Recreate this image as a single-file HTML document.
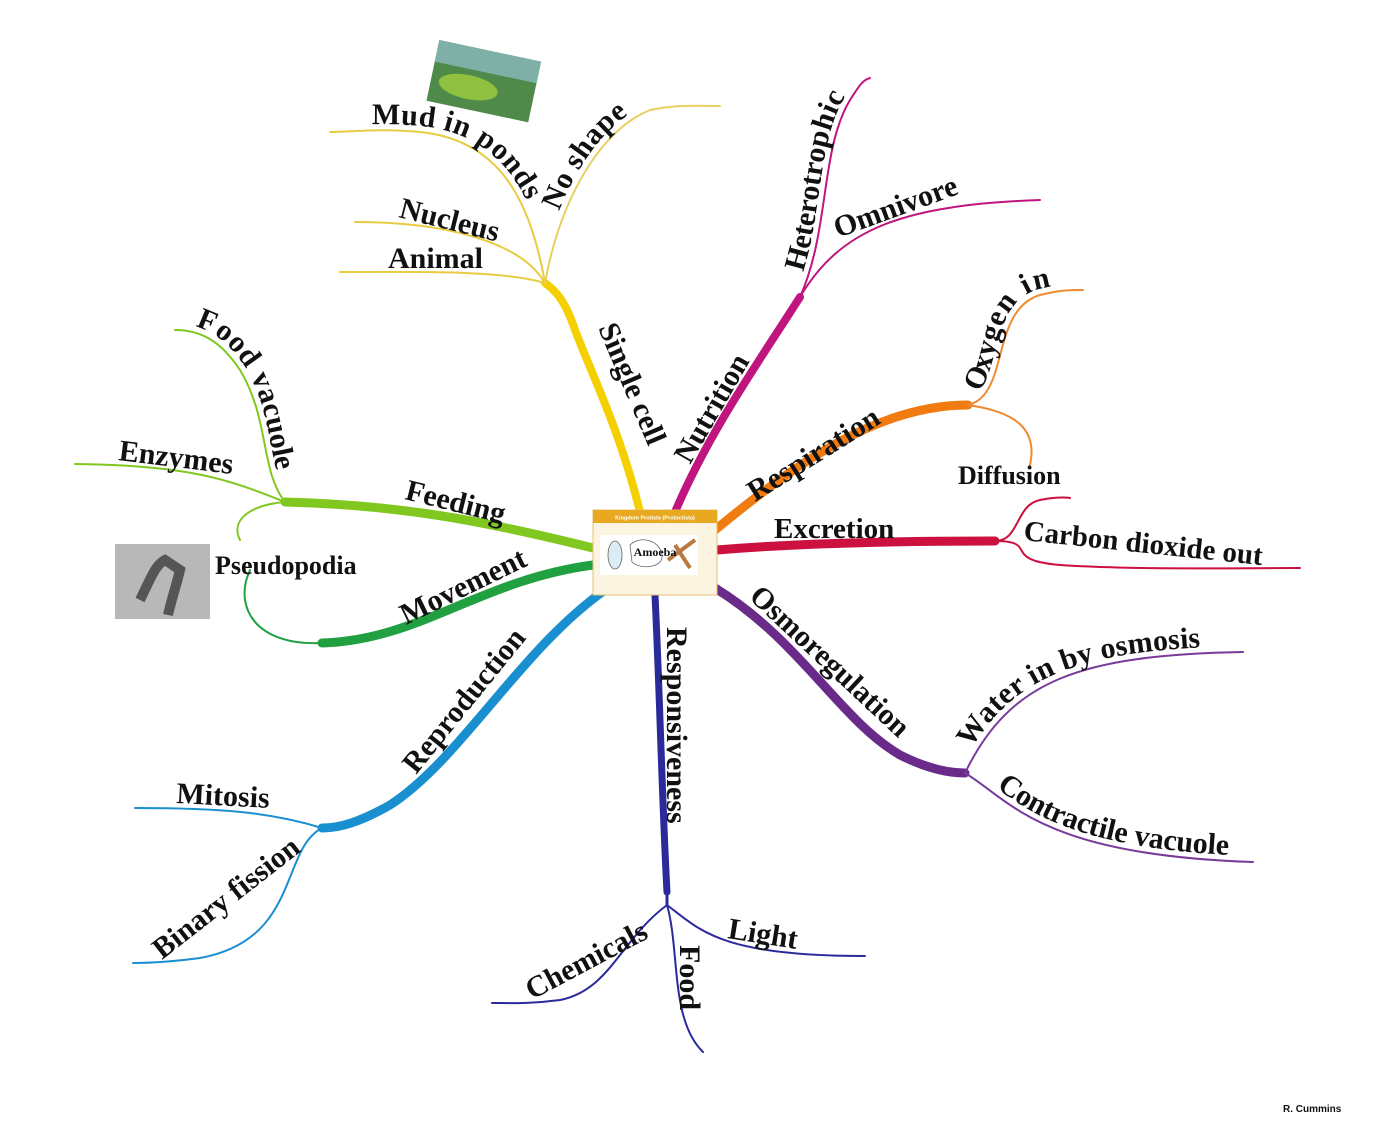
<!DOCTYPE html>
<html><head><meta charset="utf-8"><style>
html,body{margin:0;padding:0;background:#fff;}
svg{display:block;}
text{font-family:"Liberation Serif",serif;font-weight:bold;fill:#111;}
</style></head><body>
<svg width="1374" height="1125" viewBox="0 0 1374 1125" xmlns="http://www.w3.org/2000/svg">
<defs>
<path id="pMud" d="M330 132 C350 132 380 128 420 132 C500 140 530 200 545 283"/>
<path id="pNo" d="M545 283 C560 200 600 130 650 110 C680 104 700 106 720 106"/>
<path id="pHet" d="M800 297 C830 230 820 150 850 100 C858 88 862 80 870 78"/>
<path id="pOx" d="M968 405 C1010 395 990 310 1040 295 C1060 290 1070 290 1083 290"/>
<path id="pWat" d="M965 773 C1010 680 1080 655 1243 652"/>
<path id="pCon" d="M965 773 C1010 800 1040 855 1253 862"/>
<path id="pFV" d="M175 330 C200 330 220 340 240 370 C270 420 260 470 285 502"/>
</defs>
<g fill="none" stroke-linecap="round">
<path d="M640 512 C620 430 590 370 575 330 C565 300 555 290 545 283" stroke="#f5d000" stroke-width="8"/>
<path d="M545 283 C500 270 420 272 340 272" stroke="#e8cc40" stroke-width="2"/>
<path d="M545 283 C520 240 440 222 355 222" stroke="#e8cc40" stroke-width="2"/>
<use href="#pMud" stroke="#e8cc40" stroke-width="2"/>
<use href="#pNo" stroke="#e8d060" stroke-width="2"/>
<path d="M675 512 C710 430 760 360 800 297" stroke="#c0157f" stroke-width="8"/>
<use href="#pHet" stroke="#c0157f" stroke-width="2"/>
<path d="M800 297 C840 230 900 205 1040 200" stroke="#c0157f" stroke-width="2"/>
<path d="M715 530 C800 460 880 405 968 405" stroke="#f07b10" stroke-width="9"/>
<use href="#pOx" stroke="#f08a30" stroke-width="2"/>
<path d="M968 405 C1000 410 1040 420 1030 465" stroke="#f08a30" stroke-width="2"/>
<path d="M717 550 C800 543 900 541 995 541" stroke="#cc1040" stroke-width="9"/>
<path d="M995 541 C1040 541 1000 560 1060 565 C1140 570 1220 568 1300 568" stroke="#cc1040" stroke-width="2"/>
<path d="M995 541 C1020 541 1015 505 1040 500 C1060 496 1070 498 1070 498" stroke="#cc1040" stroke-width="2"/>
<path d="M715 588 C800 640 840 720 900 755 C930 770 950 773 965 773" stroke="#6a2a8a" stroke-width="9"/>
<use href="#pWat" stroke="#7a3a9a" stroke-width="2"/>
<use href="#pCon" stroke="#7a3a9a" stroke-width="2"/>
<path d="M655 595 C660 700 662 800 667 892" stroke="#2a2a9a" stroke-width="7"/>
<path d="M492 1003 C510 1003 530 1004 560 1000 C610 990 620 940 667 905" stroke="#2a2a9a" stroke-width="2"/>
<path d="M667 905 C680 950 670 1020 703 1052" stroke="#2a2a9a" stroke-width="2"/>
<path d="M667 905 C700 930 720 956 865 956" stroke="#2a2a9a" stroke-width="2"/>
<path d="M667 892 L667 905" stroke="#2a2a9a" stroke-width="3"/>
<path d="M605 590 C520 650 460 760 390 805 C360 822 340 828 322 828" stroke="#1a8fd0" stroke-width="9"/>
<path d="M322 828 C270 812 220 808 135 808" stroke="#1a8fd0" stroke-width="2"/>
<path d="M133 963 C150 963 170 962 200 958 C300 940 280 850 322 828" stroke="#1a8fd0" stroke-width="2"/>
<path d="M593 565 C480 580 420 640 322 643" stroke="#20a040" stroke-width="9"/>
<path d="M322 643 C280 645 250 630 245 600 C243 585 248 575 250 570" stroke="#20a040" stroke-width="2"/>
<path d="M593 548 C480 520 400 505 285 502" stroke="#80c820" stroke-width="9"/>
<path d="M285 502 C230 480 190 465 75 464" stroke="#80c820" stroke-width="2"/>
<use href="#pFV" stroke="#80c820" stroke-width="2"/>
<path d="M285 502 C250 505 230 520 240 540" stroke="#80c820" stroke-width="2"/>
</g>
<g transform="rotate(12 483 80)">
<rect x="432" y="50" width="104" height="62" fill="#4f8a4a"/>
<rect x="432" y="50" width="104" height="22" fill="#7fb0a8"/>
<ellipse cx="470" cy="90" rx="30" ry="12" fill="#8fc040"/>
</g>
<rect x="115" y="544" width="95" height="75" fill="#b8b8b8"/>
<path d="M140 600 C150 580 155 565 165 560 L180 570 C175 590 170 605 168 615" stroke="#555" stroke-width="10" fill="none"/>
<rect x="593" y="510" width="124" height="85" fill="#fbf4e0" stroke="#e4c070"/>
<rect x="593" y="510" width="124" height="13" fill="#e8a820"/>
<text x="655" y="519.5" font-size="5.5" text-anchor="middle" style="font-family:'Liberation Sans',sans-serif;fill:#fff">Kingdom Protista (Protoctista)</text>
<rect x="600" y="535" width="98" height="40" fill="#fff"/>
<ellipse cx="615" cy="555" rx="7" ry="14" fill="#dcecf4" stroke="#666" stroke-width="0.8"/>
<path d="M630 545 C640 535 660 540 662 555 C664 568 640 570 632 562 Z" fill="#fff" stroke="#666" stroke-width="0.8"/>
<path d="M668 560 L695 540 M675 545 L690 568" stroke="#b87a40" stroke-width="4"/>
<text x="655" y="556" font-size="12" text-anchor="middle">Amoeba</text>
<g font-size="30">
<text transform="translate(598,328) rotate(67)">Single cell</text>
<text transform="translate(690,465) rotate(-60)">Nutrition</text>
<text transform="translate(755,502) rotate(-32)">Respiration</text>
<text x="774" y="538" font-size="29">Excretion</text>
<text transform="translate(748,598) rotate(43)">Osmoregulation</text>
<text transform="translate(667,627) rotate(90)">Responsiveness</text>
<text transform="translate(416,775) rotate(-51)">Reproduction</text>
<text transform="translate(406,625) rotate(-26)">Movement</text>
<text transform="translate(404,499) rotate(14)">Feeding</text>
<text x="388" y="268">Animal</text>
<text transform="translate(398,217) rotate(14)">Nucleus</text>
<text dy="-6"><textPath href="#pMud" startOffset="42">Mud in ponds</textPath></text>
<text dy="-6"><textPath href="#pNo" startOffset="72">No shape</textPath></text>
<text dy="-6"><textPath href="#pHet" startOffset="25">Heterotrophic</textPath></text>
<text transform="translate(838,238) rotate(-20)">Omnivore</text>
<text dy="-6"><textPath href="#pOx" startOffset="20">Oxygen  in</textPath></text>
<text transform="translate(1023,540) rotate(6)" font-size="29">Carbon dioxide out</text>
<text dy="-6"><textPath href="#pWat" startOffset="24">Water in by osmosis</textPath></text>
<text dy="-6"><textPath href="#pCon" startOffset="34">Contractile vacuole</textPath></text>
<text transform="translate(532,1000) rotate(-28)">Chemicals</text>
<text transform="translate(680,945) rotate(90)">Food</text>
<text transform="translate(727,938) rotate(9)">Light</text>
<text transform="translate(176,803) rotate(3)">Mitosis</text>
<text transform="translate(162,960) rotate(-38)">Binary fission</text>
<text transform="translate(118,460) rotate(7)">Enzymes</text>
<text dy="-6"><textPath href="#pFV" startOffset="18">Food vacuole</textPath></text>
</g>
<text x="958" y="484" font-size="26">Diffusion</text>
<text x="215" y="574" font-size="26">Pseudopodia</text>
<text x="1283" y="1112" font-size="10" style="font-family:'Liberation Sans',sans-serif">R. Cummins</text>
</svg>
</body></html>
